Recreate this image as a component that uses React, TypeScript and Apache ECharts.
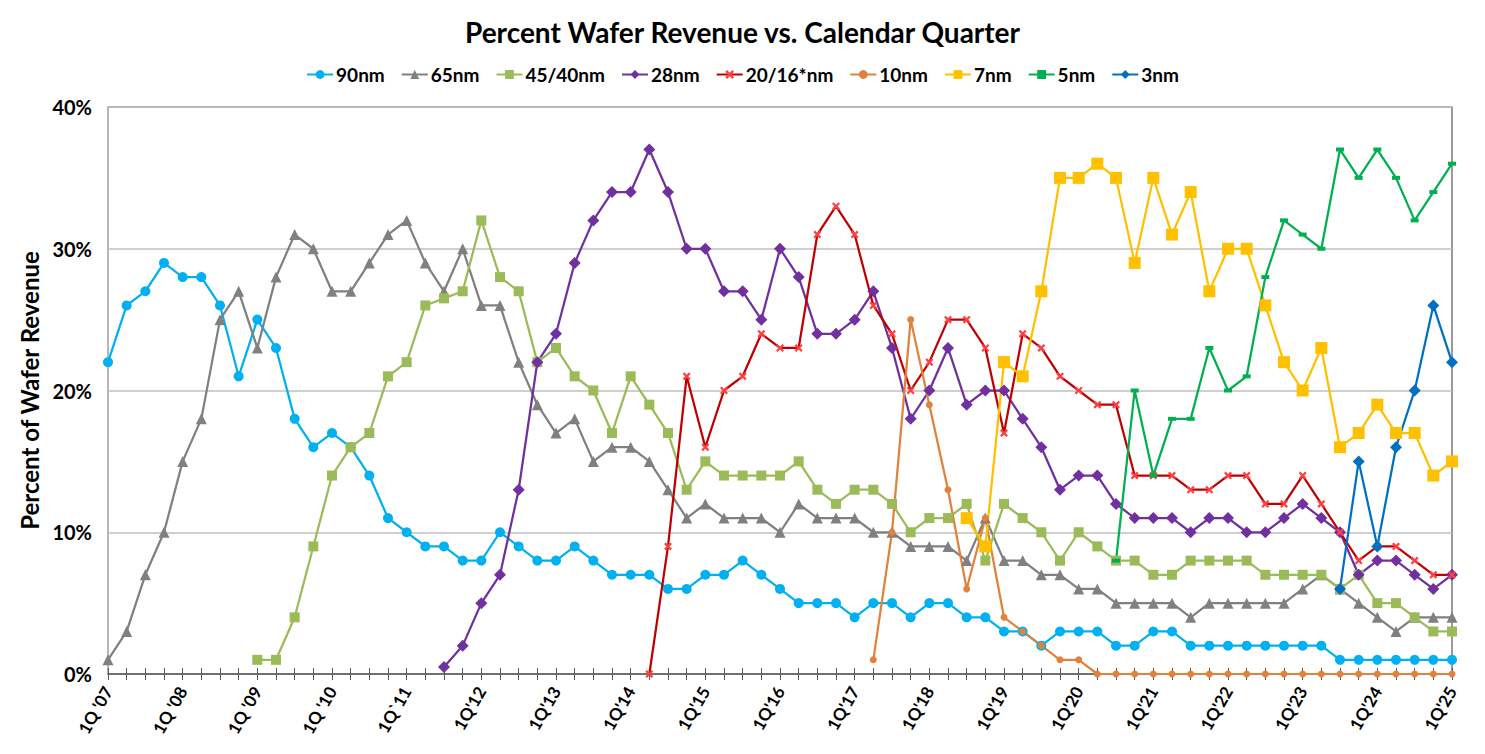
import React, { useEffect, useRef } from "react";
import * as echarts from "echarts";

// ---- Data (percent of wafer revenue), quarterly from 1Q'07 to 1Q'25 ----
const tickLabels = [
  "1Q '07", "1Q '08", "1Q '09", "1Q '10", "1Q`11", "1Q'12", "1Q'13", "1Q'14", "1Q'15", "1Q'16",
  "1Q'17", "1Q'18", "1Q'19", "1Q'20", "1Q'21", "1Q'22", "1Q'23", "1Q'24", "1Q'25",
];
const quarterCount = 73;

const nm90Start = 0;
const nm90 = [
  22, 26, 27, 29, 28, 28, 26, 21, 25, 23,
  18, 16, 17, 16, 14, 11, 10, 9, 9, 8,
  8, 10, 9, 8, 8, 9, 8, 7, 7, 7,
  6, 6, 7, 7, 8, 7, 6, 5, 5, 5,
  4, 5, 5, 4, 5, 5, 4, 4, 3, 3,
  2, 3, 3, 3, 2, 2, 3, 3, 2, 2,
  2, 2, 2, 2, 2, 2, 1, 1, 1, 1,
  1, 1, 1,
];
const nm65Start = 0;
const nm65 = [
  1, 3, 7, 10, 15, 18, 25, 27, 23, 28,
  31, 30, 27, 27, 29, 31, 32, 29, 27, 30,
  26, 26, 22, 19, 17, 18, 15, 16, 16, 15,
  13, 11, 12, 11, 11, 11, 10, 12, 11, 11,
  11, 10, 10, 9, 9, 9, 8, 11, 8, 8,
  7, 7, 6, 6, 5, 5, 5, 5, 4, 5,
  5, 5, 5, 5, 6, 7, 6, 5, 4, 3,
  4, 4, 4,
];
const nm45Start = 8;
const nm45 = [
  1, 1, 4, 9, 14, 16, 17, 21, 22, 26,
  26.5, 27, 32, 28, 27, 22, 23, 21, 20, 17,
  21, 19, 17, 13, 15, 14, 14, 14, 14, 15,
  13, 12, 13, 13, 12, 10, 11, 11, 12, 8,
  12, 11, 10, 8, 10, 9, 8, 8, 7, 7,
  8, 8, 8, 8, 7, 7, 7, 7, 6, 7,
  5, 5, 4, 3, 3,
];
const nm28Start = 18;
const nm28 = [
  0.5, 2, 5, 7, 13, 22, 24, 29, 32, 34,
  34, 37, 34, 30, 30, 27, 27, 25, 30, 28,
  24, 24, 25, 27, 23, 18, 20, 23, 19, 20,
  20, 18, 16, 13, 14, 14, 12, 11, 11, 11,
  10, 11, 11, 10, 10, 11, 12, 11, 10, 7,
  8, 8, 7, 6, 7,
];
const nm20Start = 29;
const nm20 = [
  0, 9, 21, 16, 20, 21, 24, 23, 23, 31,
  33, 31, 26, 24, 20, 22, 25, 25, 23, 17,
  24, 23, 21, 20, 19, 19, 14, 14, 14, 13,
  13, 14, 14, 12, 12, 14, 12, 10, 8, 9,
  9, 8, 7, 7,
];
const nm10Start = 41;
const nm10 = [
  1, 10, 25, 19, 13, 6, 11, 4, 3, 2,
  1, 1, 0, 0, 0, 0, 0, 0, 0, 0,
  0, 0, 0, 0, 0, 0, 0, 0, 0, 0,
  0, 0,
];
const nm7Start = 46;
const nm7 = [
  11, 9, 22, 21, 27, 35, 35, 36, 35, 29,
  35, 31, 34, 27, 30, 30, 26, 22, 20, 23,
  16, 17, 19, 17, 17, 14, 15,
];
const nm5Start = 54;
const nm5 = [
  8, 20, 14, 18, 18, 23, 20, 21, 28, 32,
  31, 30, 37, 35, 37, 35, 32, 34, 36,
];
const nm3Start = 66;
const nm3 = [6, 15, 9, 16, 20, 26, 22];

// ---- helpers ----
const categories: string[] = Array.from({ length: quarterCount }, (_, i) => {
  const q = (i % 4) + 1;
  const yr = 7 + Math.floor(i / 4);
  return `${q}Q'${String(yr).padStart(2, "0")}`;
});

function pad(start: number, vals: number[]): (number | null)[] {
  const out: (number | null)[] = new Array(quarterCount).fill(null);
  vals.forEach((v, i) => {
    out[start + i] = v;
  });
  return out;
}

const asterisk =
  "path://M0,2 L2,0 L5,3 L8,0 L10,2 L7,5 L10,8 L8,10 L5,7 L2,10 L0,8 L3,5 Z";

const FONT = "Lato, 'Open Sans', sans-serif";

export default function App() {
  const ref = useRef<HTMLDivElement>(null);

  useEffect(() => {
    if (!ref.current) return;
    const chart = echarts.init(ref.current, undefined, { renderer: "svg" });

    const mk = (
      name: string,
      start: number,
      vals: number[],
      color: string,
      symbol: string,
      symbolSize: number | number[],
      symbolColor?: string
    ) => ({
      name,
      type: "line",
      data: pad(start, vals),
      xAxisIndex: 0,
      symbol,
      symbolSize,
      showSymbol: true,
      connectNulls: false,
      lineStyle: { color, width: 2.25 },
      itemStyle: { color: symbolColor || color },
      color: symbolColor || color,
    });

    const option: any = {
      animation: false,
      backgroundColor: "#ffffff",
      title: {
        text: "Percent Wafer Revenue vs. Calendar Quarter",
        left: "center",
        top: 13,
        textStyle: { fontFamily: FONT, fontWeight: "bold", fontSize: 28, color: "#000" },
      },
      legend: {
        top: 60,
        left: "center",
        itemGap: 16,
        itemWidth: 26,
        itemHeight: 11,
        textStyle: { fontFamily: FONT, fontWeight: "bold", fontSize: 19, color: "#000", padding: [0, 0, 0, -2] },
        data: ["90nm", "65nm", "45/40nm", "28nm", "20/16*nm", "10nm", "7nm", "5nm", "3nm"],
      },
      grid: {
        left: 108,
        right: 33,
        top: 107,
        bottom: 80,
        show: true,
        borderColor: "#595959",
        borderWidth: 1.2,
      },
      xAxis: [
        {
          type: "category",
          data: categories,
          boundaryGap: false,
          position: "bottom",
          axisLine: { show: true, lineStyle: { color: "#595959", width: 1.5 } },
          axisTick: { show: true, interval: 0, length: 6, inside: false, lineStyle: { color: "#595959", width: 1 } },
          axisLabel: {
            interval: 0,
            rotate: 60,
            margin: 14,
            fontFamily: FONT,
            fontWeight: "bold",
            fontSize: 17,
            color: "#000",
            formatter: (_v: string, idx: number) => (idx % 4 === 0 ? tickLabels[idx / 4] : ""),
          },
          splitLine: { show: false },
        },
        {
          type: "category",
          data: categories,
          boundaryGap: false,
          position: "bottom",
          axisLine: { show: false },
          axisTick: { show: true, interval: 0, length: 6, inside: true, lineStyle: { color: "#595959", width: 1 } },
          axisLabel: { show: false },
          splitLine: { show: false },
        },
      ],
      yAxis: {
        type: "value",
        min: 0,
        max: 40,
        interval: 10,
        name: "Percent of Wafer Revenue",
        nameLocation: "middle",
        nameRotate: 90,
        nameGap: 66,
        nameTextStyle: { fontFamily: FONT, fontWeight: "bold", fontSize: 24, color: "#000" },
        axisLine: { show: true, lineStyle: { color: "#BFBFBF", width: 1.5 } },
        axisTick: { show: false },
        axisLabel: {
          formatter: "{value}%",
          margin: 16,
          fontFamily: FONT,
          fontWeight: "bold",
          fontSize: 20,
          color: "#000",
        },
        splitLine: { show: true, lineStyle: { color: "#BFBFBF", width: 1.5 } },
      },
      series: [
        mk("90nm", nm90Start, nm90, "#00B0F0", "circle", 10),
        mk("65nm", nm65Start, nm65, "#808080", "triangle", 11),
        mk("45/40nm", nm45Start, nm45, "#9BBB59", "rect", 10),
        mk("28nm", nm28Start, nm28, "#7030A0", "diamond", 12),
        mk("20/16*nm", nm20Start, nm20, "#C00000", asterisk, 8, "#FF4040"),
        mk("10nm", nm10Start, nm10, "#E0823D", "circle", 7),
        mk("7nm", nm7Start, nm7, "#FFC000", "rect", 12),
        mk("5nm", nm5Start, nm5, "#00B050", "rect", [8, 4]),
        mk("3nm", nm3Start, nm3, "#0070C0", "diamond", 12),
      ],
    };

    chart.setOption(option);
    return () => chart.dispose();
  }, []);

  return (
    <div
      ref={ref}
      style={{ position: "fixed", left: 0, top: 0, width: 1485, height: 754, background: "#fff" }}
    />
  );
}
